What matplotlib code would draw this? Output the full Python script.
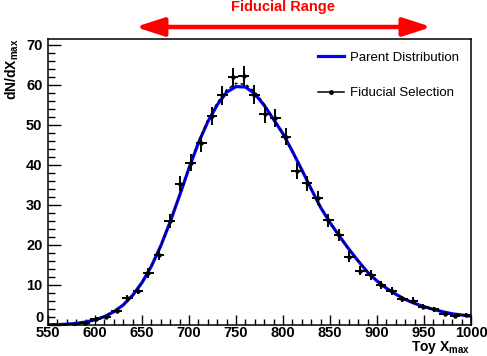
import matplotlib
matplotlib.use('Agg')
import matplotlib.pyplot as plt
import matplotlib.transforms as mtransforms
from matplotlib.lines import Line2D
from matplotlib.ticker import MultipleLocator, FuncFormatter

plt.rcParams['font.family'] = ['Liberation Sans', 'DejaVu Sans']
plt.rcParams['mathtext.fontset'] = 'custom'
plt.rcParams['mathtext.rm'] = 'Liberation Sans:bold'
plt.rcParams['mathtext.bf'] = 'Liberation Sans:bold'

# binned toy sample (bin centres, counts, errors)
bin_centres = [555.6, 566.9, 578.1, 589.4, 600.6, 611.9, 623.1, 634.4, 645.6, 656.9,
               668.1, 679.4, 690.6, 701.9, 713.1, 724.4, 735.6, 746.9, 758.1, 769.4,
               780.6, 791.9, 803.1, 814.4, 825.6, 836.9, 848.1, 859.4, 870.6, 881.9,
               893.1, 904.4, 915.6, 926.9, 938.1, 949.4, 960.6, 971.9, 983.1, 994.4]
bin_halfwidth = 5.625
counts = [0.05, 0.1, 0.2, 0.6, 1.5, 1.9, 3.6, 6.7, 8.6, 13.0,
          17.6, 26.0, 35.3, 40.6, 45.4, 52.2, 57.4, 61.9, 62.2, 57.6,
          52.8, 51.8, 47.1, 38.6, 35.4, 31.8, 26.2, 22.4, 17.1, 13.6,
          12.5, 10.0, 8.5, 6.5, 6.1, 4.6, 3.9, 2.8, 2.2, 2.5]
count_errs = [0.07, 0.1, 0.15, 0.25, 0.4, 0.45, 0.6, 0.85, 0.95, 1.15,
              1.35, 1.65, 1.9, 2.05, 2.15, 2.3, 2.4, 2.45, 2.45, 2.4,
              2.3, 2.3, 2.2, 2.0, 1.9, 1.8, 1.65, 1.5, 1.35, 1.2,
              1.15, 1.0, 0.95, 0.8, 0.8, 0.7, 0.65, 0.55, 0.5, 0.5]

# parent distribution and fitted selection curve
curve_x = [550, 560, 570, 580, 590, 600, 610, 620, 630, 640, 650, 660, 670, 680,
           690, 700, 710, 720, 730, 740, 750, 760, 770, 780, 790, 800, 810, 820,
           830, 840, 850, 860, 870, 880, 890, 900, 910, 920, 930, 940, 950, 960,
           970, 980, 990, 1000]
parent = [0.05, 0.1, 0.2, 0.4, 0.75, 1.3, 2.1, 3.3, 5.0, 7.4, 10.6, 14.7, 19.8, 25.8,
          32.4, 39.2, 45.5, 50.8, 55.0, 58.2, 59.6, 59.5, 57.8, 54.9, 51.4, 47.8, 43.4, 38.8,
          34.0, 29.4, 25.6, 22.2, 19.0, 16.0, 13.2, 11.0, 9.2, 7.7, 6.4, 5.4, 4.6, 3.9,
          3.3, 2.8, 2.5, 2.2]
selection = [0.05, 0.1, 0.2, 0.4, 0.75, 1.3, 2.1, 3.3, 5.0, 7.4, 10.6, 14.7, 19.8, 25.8,
             32.5, 39.4, 45.8, 51.2, 55.5, 58.8, 60.4, 60.2, 58.3, 55.2, 51.5, 47.8, 43.4, 38.8,
             34.0, 29.4, 25.6, 22.2, 19.0, 16.0, 13.2, 11.0, 9.2, 7.7, 6.4, 5.4, 4.6, 3.9,
             3.3, 2.8, 2.5, 2.2]

fid_lo, fid_hi = 643, 958

fig = plt.figure(figsize=(4.87, 3.56), dpi=100)
ax = fig.add_axes([48 / 487, 31 / 356, 423 / 487, 286 / 356])

ax.plot(curve_x, parent, color='#0000ff', lw=2.3, zorder=2)
ax.plot(curve_x, selection, color='k', lw=1.1, ls=(0, (2, 2)), zorder=3)
ax.errorbar(bin_centres, counts, xerr=bin_halfwidth, yerr=count_errs,
            fmt='o', ms=2.2, color='k', elinewidth=1.4, capsize=0, zorder=4)

ax.set_xlim(550, 1000)
ax.set_ylim(0, 71.5)
ax.xaxis.set_major_locator(MultipleLocator(50))
ax.xaxis.set_minor_locator(MultipleLocator(10))
ax.yaxis.set_major_locator(MultipleLocator(10))
ax.yaxis.set_minor_locator(MultipleLocator(2))
# the zero label is drawn by hand below, sitting on the corner
ax.yaxis.set_major_formatter(FuncFormatter(lambda v, pos: '' if v == 0 else '%d' % v))
ax.tick_params(which='both', direction='in', top=False, right=False, width=1.0,
               labelsize=10.5)
ax.tick_params(axis='y', which='major', length=9, pad=4)
ax.tick_params(axis='y', which='minor', length=5)
ax.tick_params(axis='x', which='major', length=7, pad=1)
ax.tick_params(axis='x', which='minor', length=4)
for lab in ax.get_xticklabels() + ax.get_yticklabels():
    lab.set_fontweight('bold')
for sp in ax.spines.values():
    sp.set_linewidth(1.1)

zero_off = mtransforms.ScaledTranslation(-4 / 100, 0, fig.dpi_scale_trans)
ax.text(0, 0, '0', transform=ax.transAxes + zero_off, ha='right', va='bottom',
        fontsize=10.5, fontweight='bold')

fig.text(12 / 487, 1 - 38 / 356, r'dN/dX$_{\mathbf{max}}$', rotation=90,
         ha='center', va='top', fontsize=10, fontweight='bold')
fig.text(470 / 487, 0, r'Toy X$_{\mathbf{max}}$', ha='right', va='bottom',
         fontsize=10, fontweight='bold')

# fiducial range arrow above the frame
ax.annotate('', xy=(fid_lo, 1.042), xytext=(fid_hi, 1.042),
            xycoords=('data', 'axes fraction'),
            arrowprops=dict(arrowstyle='<|-|>,head_length=1.7,head_width=0.55',
                            color='#ff0000', lw=3.2, shrinkA=0, shrinkB=0),
            annotation_clip=False)
ax.text(0.5 * (fid_lo + fid_hi), 1.088, 'Fiducial Range', transform=ax.get_xaxis_transform(),
        ha='center', va='bottom', color='#ff0000', fontsize=10.5, fontweight='bold')

handles = [Line2D([], [], color='#0000ff', lw=2.3),
           Line2D([], [], color='k', lw=1.1, marker='o', ms=2.5)]
ax.legend(handles, ['Parent Distribution', 'Fiducial Selection'], frameon=False,
          loc='upper left', bbox_to_anchor=(0.638, 0.955), borderaxespad=0, borderpad=0,
          fontsize=9.5, handlelength=2.0, handletextpad=0.45, labelspacing=1.75)

fig.savefig('out.png', dpi=100)
